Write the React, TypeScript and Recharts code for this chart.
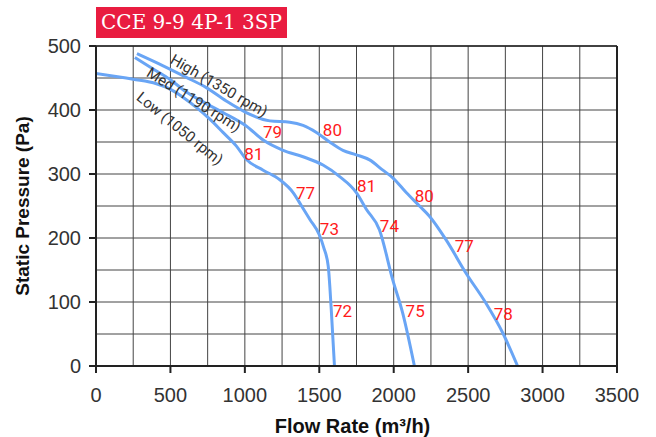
import React from "react";
import {
  ComposedChart,
  Line,
  Scatter,
  XAxis,
  YAxis,
  CartesianGrid,
  ReferenceLine,
  Label,
} from "recharts";

// axis ticks
const FLOW_TICKS = [0, 500, 1000, 1500, 2000, 2500, 3000, 3500];
const PRESSURE_TICKS = [0, 100, 200, 300, 400, 500];
const FLOW_MINOR = [250, 750, 1250, 1750, 2250, 2750, 3250];
const PRESSURE_MINOR = [50, 150, 250, 350, 450];

// fan curves (flow m3/h, static pressure Pa)
const LOW_Q = [0, 250, 406, 495, 584, 674, 763, 853, 942, 1009, 1123, 1235, 1324, 1381, 1437, 1500, 1530, 1560, 1580, 1602];
const LOW_P = [457, 448, 441, 433, 420, 404, 386, 365, 344, 323, 306, 291, 271, 250, 229, 205, 185, 156, 90, 0];

const MED_Q = [261, 384, 495, 607, 741, 853, 1009, 1123, 1257, 1391, 1525, 1637, 1749, 1816, 1904, 1993, 2060, 2139];
const MED_P = [482, 464, 448, 428, 410, 396, 375, 353, 337, 327, 314, 296, 271, 245, 213, 135, 83, 0];

const HIGH_Q = [275, 451, 607, 741, 875, 1009, 1168, 1302, 1391, 1481, 1570, 1659, 1749, 1838, 1927, 1994, 2084, 2173, 2240, 2352, 2486, 2620, 2732, 2832];
const HIGH_P = [488, 469, 451, 435, 414, 396, 383, 381, 376, 365, 350, 337, 330, 322, 306, 294, 271, 250, 234, 197, 145, 98, 52, 0];

// sound level labels (dB)
const DB_Q = [1186, 1060, 1407, 1588, 1817, 2206, 1568, 1971, 2474, 1656, 2144, 2736];
const DB_P = [366, 332, 271, 369, 282, 266, 214, 219, 188, 86, 86, 82];
const DB_TEXT = ["79", "81", "77", "80", "81", "80", "73", "74", "77", "72", "75", "78"];

// speed names along the curves
const NAME_Q = [826, 657, 563];
const NAME_P = [438, 416, 371];
const NAME_TEXT = ["High (1350 rpm)", "Med (1190 rpm)", "Low (1050 rpm)"];
const NAME_ANGLE = [30, 32, 39];

const toPoints = (q: number[], p: number[]) => q.map((x, i) => ({ x, y: p[i] }));

const lowData = toPoints(LOW_Q, LOW_P);
const medData = toPoints(MED_Q, MED_P);
const highData = toPoints(HIGH_Q, HIGH_P);
const dbData = DB_Q.map((x, i) => ({ x, y: DB_P[i], t: DB_TEXT[i] }));
const nameData = NAME_Q.map((x, i) => ({ x, y: NAME_P[i], t: NAME_TEXT[i], a: NAME_ANGLE[i] }));

const CURVE = "#69a5f5";
const GRID = "#444";
const AXIS = "#222";
const SANS = "'Liberation Sans', Arial, sans-serif";
const TICK_FONT = { fontFamily: SANS, fontSize: 20, fill: "#333" };

export default function App() {
  return (
    <div style={{ position: "absolute", left: 0, top: 0, width: 656, height: 437, background: "#fff" }}>
      <div
        style={{
          position: "absolute",
          left: 96,
          top: 7,
          width: 191,
          height: 31,
          background: "#e91c40",
          color: "#fff",
          fontFamily: "'DejaVu Serif', serif",
          fontSize: 20,
          lineHeight: "31px",
          textAlign: "center",
          whiteSpace: "nowrap",
        }}
      >
        CCE 9-9 4P-1 3SP
      </div>
      <ComposedChart width={656} height={437} margin={{ top: 46, right: 39, bottom: 0, left: 0 }}>
        <CartesianGrid stroke={GRID} strokeWidth={1} />
        <XAxis
          dataKey="x"
          type="number"
          domain={[0, 3500]}
          ticks={FLOW_TICKS}
          height={71}
          tickSize={7}
          tickMargin={15}
          tick={TICK_FONT}
          stroke={AXIS}
          strokeWidth={2}
          allowDataOverflow
        >
          <Label
            content={({ viewBox }: any) => (
              <text
                x={viewBox.x + viewBox.width / 2 - 4}
                y={433}
                textAnchor="middle"
                style={{ fontFamily: SANS, fontSize: 20, fontWeight: 700, fill: "#111" }}
              >
                Flow Rate (m³/h)
              </text>
            )}
          />
        </XAxis>
        <YAxis
          dataKey="y"
          type="number"
          domain={[0, 500]}
          ticks={PRESSURE_TICKS}
          width={96}
          tickSize={7}
          tickMargin={8}
          tick={TICK_FONT}
          stroke={AXIS}
          strokeWidth={2}
          allowDataOverflow
        >
          <Label
            content={({ viewBox }: any) => {
              const cx = viewBox.x + 22;
              const cy = viewBox.y + viewBox.height / 2;
              return (
                <text
                  x={cx}
                  y={cy}
                  transform={`rotate(-90 ${cx} ${cy})`}
                  textAnchor="middle"
                  dominantBaseline="central"
                  style={{ fontFamily: SANS, fontSize: 19, fontWeight: 700, fill: "#111" }}
                >
                  Static Pressure (Pa)
                </text>
              );
            }}
          />
        </YAxis>
        {FLOW_MINOR.map((v) => (
          <ReferenceLine key={`fx${v}`} x={v} stroke={GRID} strokeWidth={1} />
        ))}
        {PRESSURE_MINOR.map((v) => (
          <ReferenceLine key={`py${v}`} y={v} stroke={GRID} strokeWidth={1} />
        ))}
        <ReferenceLine x={3500} stroke={AXIS} strokeWidth={2} />
        <ReferenceLine y={500} stroke={AXIS} strokeWidth={1.5} />
        <Line data={lowData} dataKey="y" type="monotone" stroke={CURVE} strokeWidth={3} dot={false} isAnimationActive={false} />
        <Line data={medData} dataKey="y" type="monotone" stroke={CURVE} strokeWidth={3} dot={false} isAnimationActive={false} />
        <Line data={highData} dataKey="y" type="monotone" stroke={CURVE} strokeWidth={3} dot={false} isAnimationActive={false} />
        <Scatter
          data={dbData}
          dataKey="y"
          isAnimationActive={false}
          shape={(p: any) => (
            <text
              x={p.cx}
              y={p.cy}
              textAnchor="middle"
              dominantBaseline="central"
              style={{ fontFamily: "Roboto, sans-serif", fontSize: 17, fill: "#ff1a1a" }}
            >
              {p.payload.t}
            </text>
          )}
        />
        <Scatter
          data={nameData}
          dataKey="y"
          isAnimationActive={false}
          shape={(p: any) => (
            <text
              x={p.cx}
              y={p.cy}
              transform={`rotate(${p.payload.a} ${p.cx} ${p.cy})`}
              textAnchor="middle"
              dominantBaseline="central"
              style={{ fontFamily: "Roboto, sans-serif", fontSize: 15, fill: "#333" }}
            >
              {p.payload.t}
            </text>
          )}
        />
      </ComposedChart>
    </div>
  );
}
